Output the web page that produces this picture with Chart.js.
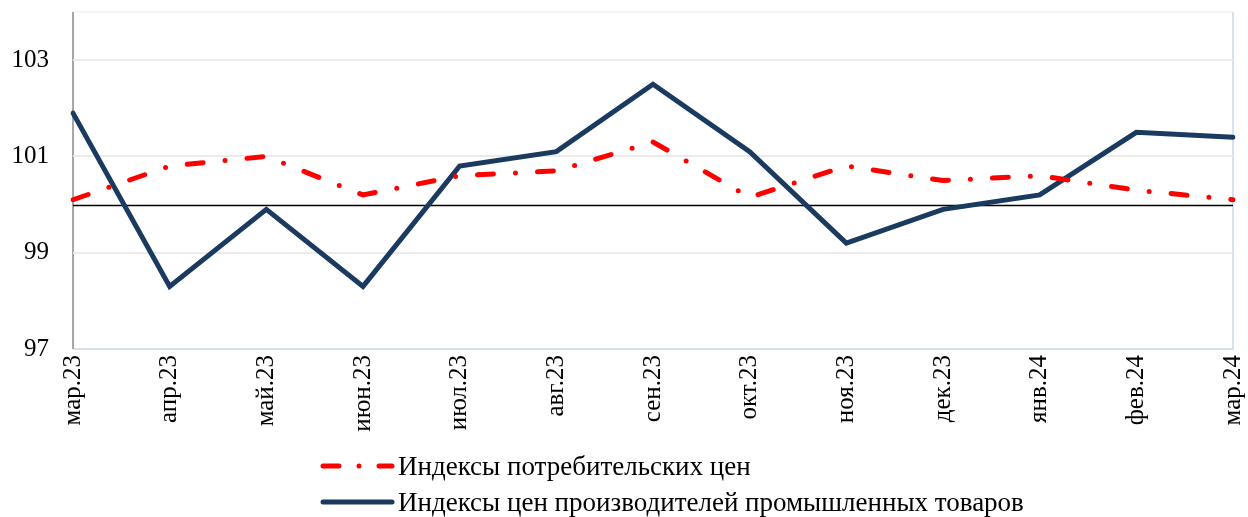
<!DOCTYPE html>
<html><head><meta charset="utf-8">
<script src="https://cdn.jsdelivr.net/npm/chart.js@4/dist/chart.umd.min.js"></script>
<style>
html,body{margin:0;padding:0;background:#fff;}
#wrap{position:relative;width:1248px;height:517px;}
#legend{position:absolute;left:316px;top:448px;font-family:"Liberation Serif","Times New Roman",serif;font-size:27px;color:#000;}
.item{display:flex;align-items:center;height:36px;}
.item svg{margin-right:2px;}
</style>
</head><body>
<div id="wrap"><canvas id="c" width="1248" height="517"></canvas>
<div id="legend"></div></div>
<script>
const categories = ["мар.23","апр.23","май.23","июн.23","июл.23","авг.23","сен.23","окт.23","ноя.23","дек.23","янв.24","фев.24","мар.24"];
const cpi = [100.1,100.8,101.0,100.2,100.6,100.7,101.3,100.15,100.8,100.5,100.6,100.3,100.1];
const ppi = [101.9,98.3,99.9,98.3,100.8,101.1,102.5,101.1,99.2,99.9,100.2,101.5,101.4];
const yTicks = [97,99,101,103];
const seriesNames = ["Индексы потребительских цен","Индексы цен производителей промышленных товаров"];
const baseLine = 100;

const RED = '#ff0000', NAVY = '#1b3a5f';
const serif = '"Liberation Serif","Times New Roman",serif';

const framePlugin = {
  id:'frame',
  beforeDatasetsDraw(chart){
    const {ctx, chartArea:a, scales:{y}} = chart;
    ctx.save();
    const yb = Math.round(y.getPixelForValue(baseLine))+0.5;
    ctx.strokeStyle='#000'; ctx.lineWidth=1.3;
    ctx.beginPath(); ctx.moveTo(a.left,yb); ctx.lineTo(a.right,yb); ctx.stroke();
    ctx.restore();
  },
  beforeDraw(chart){
    const {ctx, chartArea:a} = chart;
    ctx.save();
    ctx.lineWidth=1.5;
    ctx.strokeStyle='#eef3fa';
    ctx.beginPath(); ctx.moveTo(a.left,a.top); ctx.lineTo(a.right,a.top); ctx.stroke();
    ctx.strokeStyle='#c6daee';
    ctx.beginPath(); ctx.moveTo(a.right,a.top); ctx.lineTo(a.right,a.bottom); ctx.lineTo(a.left,a.bottom); ctx.stroke();
    ctx.strokeStyle='#8a8a8a';
    ctx.beginPath(); ctx.moveTo(a.left,a.top); ctx.lineTo(a.left,a.bottom); ctx.stroke();
    ctx.restore();
  }
};

function noPad(s){ s.paddingTop=0; s.paddingBottom=0; s.paddingLeft=0; s.paddingRight=0; }

const chart = new Chart(document.getElementById('c'), {
  type:'line',
  data:{
    labels:categories,
    datasets:[
      {label:seriesNames[0], data:cpi, borderColor:RED, backgroundColor:RED, borderWidth:5, borderDash:[16,22,0,22], borderCapStyle:'round', pointRadius:0, tension:0},
      {label:seriesNames[1], data:ppi, borderColor:NAVY, backgroundColor:NAVY, borderWidth:5, borderCapStyle:'round', borderJoinStyle:'miter', pointRadius:0, tension:0}
    ]
  },
  options:{
    responsive:false, animation:false, devicePixelRatio:1,
    layout:{padding:{top:12,right:15,left:0,bottom:0}},
    plugins:{legend:{display:false}, tooltip:{enabled:false}},
    scales:{
      x:{
        offset:false,
        grid:{display:false, drawTicks:false},
        border:{display:false},
        ticks:{minRotation:90,maxRotation:90,padding:6,color:'#000',font:{family:serif,size:25}},
        afterFit(s){ s.height = 168; noPad(s); }
      },
      y:{
        min:97,max:104,
        afterBuildTicks(s){ s.ticks = yTicks.map(v=>({value:v})); },
        grid:{drawTicks:false, color:ctx=> ctx.tick && ctx.tick.value===97 ? 'rgba(0,0,0,0)' : '#ebebeb', lineWidth:2},
        border:{display:false},
        ticks:{padding:24,color:'#000',font:{family:serif,size:25}},
        afterFit(s){ s.width = 73; noPad(s); }
      }
    }
  },
  plugins:[framePlugin]
});

// HTML legend using dataset styles
const lg = document.getElementById('legend');
chart.data.datasets.forEach(ds=>{
  const d = document.createElement('div'); d.className='item';
  d.innerHTML = `<svg width="80" height="12"><line x1="7" y1="6" x2="76" y2="6" stroke="${ds.borderColor}" stroke-width="${ds.borderWidth}" stroke-linecap="round" ${ds.borderDash?`stroke-dasharray="16 20 0 20"`:''}/></svg><span>${ds.label}</span>`;
  lg.appendChild(d);
});
</script>
</body></html>
